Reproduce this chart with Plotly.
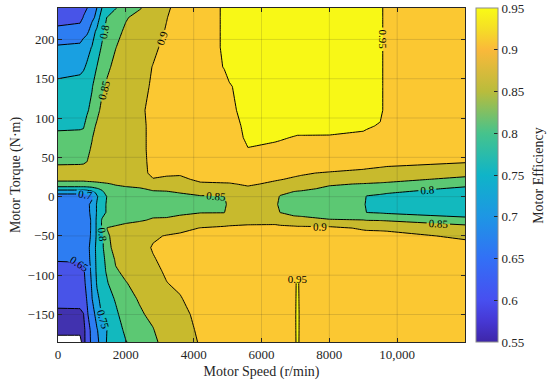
import plotly.graph_objects as go

# Motor speed grid (r/min)
speed = [0, 650, 750, 850, 1000, 1150, 1300, 1450, 1700, 2000, 2400, 2800, 3200, 3600,
         4200, 4900, 5050, 5600, 6400, 6550, 6950, 7060, 7170, 8000, 9000, 9100, 9500, 9700, 12000]

# Motor torque grid (N·m)
torque = [-185, -170, -150, -130, -110, -95, -80, -65, -50, -40, -30, -20, -10, 0, 5, 10, 16, 22,
          30, 45, 60, 75, 90, 110, 140, 165, 190, 210, 228, 240]

# Efficiency rows (one per torque value, one column per speed value)
eff_m185 = [0.53, 0.53, 0.58, 0.625, 0.66, 0.69, 0.72, 0.755, 0.775, 0.798, 0.822, 0.843, 0.862, 0.87, 0.905, 0.925, 0.925, 0.925, 0.928, 0.928, 0.932, 0.962, 0.932, 0.928, 0.926, 0.926, 0.925, 0.925, 0.925]
eff_m170 = [0.565, 0.565, 0.585, 0.62, 0.665, 0.698, 0.715, 0.752, 0.775, 0.81, 0.835, 0.848, 0.87, 0.875, 0.91, 0.925, 0.925, 0.926, 0.928, 0.928, 0.934, 0.962, 0.934, 0.928, 0.927, 0.927, 0.926, 0.925, 0.925]
eff_m150 = [0.59, 0.59, 0.598, 0.64, 0.685, 0.712, 0.755, 0.768, 0.79, 0.825, 0.845, 0.858, 0.88, 0.885, 0.915, 0.925, 0.925, 0.928, 0.93, 0.93, 0.935, 0.962, 0.935, 0.93, 0.928, 0.928, 0.927, 0.926, 0.925]
eff_m130 = [0.615, 0.617, 0.625, 0.652, 0.698, 0.74, 0.765, 0.778, 0.805, 0.838, 0.853, 0.868, 0.89, 0.897, 0.922, 0.926, 0.926, 0.928, 0.93, 0.93, 0.935, 0.96, 0.935, 0.93, 0.928, 0.928, 0.927, 0.926, 0.925]
eff_m110 = [0.622, 0.623, 0.635, 0.665, 0.705, 0.755, 0.78, 0.797, 0.825, 0.848, 0.865, 0.882, 0.899, 0.908, 0.927, 0.928, 0.928, 0.93, 0.932, 0.932, 0.935, 0.958, 0.935, 0.932, 0.93, 0.93, 0.928, 0.927, 0.925]
eff_m95 = [0.625, 0.627, 0.642, 0.672, 0.71, 0.76, 0.788, 0.805, 0.845, 0.86, 0.875, 0.89, 0.905, 0.915, 0.928, 0.93, 0.93, 0.93, 0.932, 0.932, 0.935, 0.945, 0.935, 0.932, 0.93, 0.93, 0.928, 0.927, 0.925]
eff_m80 = [0.655, 0.657, 0.66, 0.68, 0.715, 0.762, 0.79, 0.81, 0.856, 0.866, 0.88, 0.897, 0.91, 0.918, 0.928, 0.93, 0.93, 0.93, 0.932, 0.932, 0.932, 0.935, 0.93, 0.93, 0.93, 0.93, 0.928, 0.926, 0.92]
eff_m65 = [0.668, 0.668, 0.67, 0.685, 0.716, 0.765, 0.79, 0.832, 0.87, 0.875, 0.885, 0.903, 0.91, 0.915, 0.925, 0.928, 0.928, 0.928, 0.928, 0.928, 0.928, 0.928, 0.928, 0.928, 0.925, 0.925, 0.924, 0.924, 0.915]
eff_m50 = [0.67, 0.67, 0.672, 0.688, 0.705, 0.76, 0.79, 0.845, 0.862, 0.868, 0.874, 0.895, 0.902, 0.906, 0.915, 0.918, 0.918, 0.918, 0.918, 0.918, 0.92, 0.92, 0.92, 0.92, 0.915, 0.914, 0.913, 0.912, 0.893]
eff_m40 = [0.67, 0.67, 0.672, 0.685, 0.705, 0.76, 0.805, 0.851, 0.855, 0.857, 0.86, 0.875, 0.882, 0.89, 0.901, 0.905, 0.906, 0.907, 0.908, 0.908, 0.912, 0.91, 0.91, 0.91, 0.895, 0.894, 0.893, 0.892, 0.87]
eff_m30 = [0.67, 0.67, 0.672, 0.685, 0.705, 0.76, 0.805, 0.83, 0.838, 0.845, 0.848, 0.852, 0.855, 0.862, 0.875, 0.882, 0.885, 0.89, 0.89, 0.885, 0.865, 0.865, 0.864, 0.853, 0.851, 0.849, 0.848, 0.846, 0.82]
eff_m20 = [0.672, 0.672, 0.675, 0.69, 0.708, 0.755, 0.785, 0.805, 0.83, 0.838, 0.843, 0.845, 0.84, 0.843, 0.848, 0.848, 0.872, 0.874, 0.87, 0.849, 0.838, 0.836, 0.835, 0.828, 0.818, 0.799, 0.795, 0.792, 0.77]
eff_m10 = [0.675, 0.675, 0.678, 0.69, 0.71, 0.755, 0.785, 0.805, 0.83, 0.835, 0.84, 0.842, 0.835, 0.835, 0.832, 0.835, 0.87, 0.872, 0.868, 0.832, 0.828, 0.826, 0.825, 0.82, 0.812, 0.79, 0.785, 0.782, 0.76]
eff_0 = [0.68, 0.68, 0.683, 0.688, 0.692, 0.745, 0.78, 0.802, 0.83, 0.835, 0.84, 0.842, 0.838, 0.84, 0.845, 0.846, 0.872, 0.876, 0.872, 0.845, 0.835, 0.833, 0.832, 0.825, 0.815, 0.797, 0.79, 0.788, 0.765]
eff_p5 = [0.71, 0.71, 0.71, 0.712, 0.73, 0.76, 0.785, 0.82, 0.835, 0.84, 0.842, 0.845, 0.845, 0.851, 0.865, 0.868, 0.877, 0.885, 0.878, 0.862, 0.845, 0.842, 0.84, 0.83, 0.822, 0.812, 0.808, 0.803, 0.775]
eff_p10 = [0.77, 0.77, 0.77, 0.772, 0.78, 0.795, 0.81, 0.83, 0.84, 0.845, 0.847, 0.855, 0.858, 0.865, 0.885, 0.885, 0.885, 0.896, 0.888, 0.88, 0.863, 0.862, 0.861, 0.84, 0.83, 0.825, 0.825, 0.822, 0.79]
eff_p16 = [0.84, 0.84, 0.84, 0.841, 0.842, 0.843, 0.845, 0.847, 0.853, 0.856, 0.862, 0.885, 0.885, 0.888, 0.898, 0.898, 0.898, 0.903, 0.896, 0.893, 0.885, 0.883, 0.882, 0.856, 0.847, 0.846, 0.842, 0.84, 0.815]
eff_p22 = [0.856, 0.856, 0.856, 0.857, 0.858, 0.86, 0.862, 0.865, 0.868, 0.872, 0.88, 0.899, 0.896, 0.897, 0.903, 0.906, 0.907, 0.908, 0.902, 0.901, 0.897, 0.896, 0.895, 0.888, 0.878, 0.877, 0.872, 0.868, 0.835]
eff_p30 = [0.866, 0.866, 0.866, 0.868, 0.872, 0.875, 0.877, 0.879, 0.882, 0.886, 0.892, 0.905, 0.904, 0.902, 0.905, 0.908, 0.909, 0.912, 0.91, 0.909, 0.905, 0.904, 0.903, 0.897, 0.89, 0.889, 0.886, 0.885, 0.872]
eff_p45 = [0.843, 0.844, 0.845, 0.849, 0.862, 0.872, 0.876, 0.879, 0.882, 0.886, 0.894, 0.905, 0.912, 0.916, 0.92, 0.922, 0.923, 0.93, 0.932, 0.932, 0.932, 0.932, 0.932, 0.928, 0.922, 0.92, 0.915, 0.912, 0.904]
eff_p60 = [0.82, 0.822, 0.825, 0.838, 0.856, 0.872, 0.878, 0.88, 0.884, 0.888, 0.895, 0.905, 0.913, 0.918, 0.922, 0.928, 0.93, 0.949, 0.945, 0.944, 0.94, 0.94, 0.94, 0.938, 0.935, 0.935, 0.932, 0.93, 0.925]
eff_p75 = [0.807, 0.808, 0.81, 0.83, 0.847, 0.87, 0.875, 0.878, 0.882, 0.886, 0.894, 0.906, 0.915, 0.92, 0.925, 0.932, 0.935, 0.955, 0.953, 0.952, 0.949, 0.948, 0.948, 0.948, 0.944, 0.943, 0.938, 0.932, 0.925]
eff_p90 = [0.795, 0.796, 0.797, 0.81, 0.835, 0.857, 0.868, 0.874, 0.88, 0.885, 0.894, 0.906, 0.915, 0.92, 0.928, 0.935, 0.94, 0.956, 0.958, 0.958, 0.958, 0.958, 0.958, 0.957, 0.955, 0.953, 0.948, 0.935, 0.925]
eff_p110 = [0.78, 0.785, 0.79, 0.795, 0.81, 0.837, 0.862, 0.87, 0.878, 0.885, 0.893, 0.91, 0.92, 0.925, 0.93, 0.94, 0.945, 0.958, 0.96, 0.96, 0.96, 0.96, 0.96, 0.96, 0.96, 0.96, 0.956, 0.94, 0.925]
eff_p140 = [0.76, 0.765, 0.77, 0.785, 0.797, 0.82, 0.842, 0.856, 0.868, 0.878, 0.89, 0.904, 0.915, 0.922, 0.932, 0.942, 0.948, 0.96, 0.96, 0.96, 0.96, 0.96, 0.96, 0.96, 0.96, 0.96, 0.956, 0.94, 0.925]
eff_p165 = [0.735, 0.74, 0.745, 0.755, 0.78, 0.801, 0.82, 0.843, 0.86, 0.873, 0.888, 0.901, 0.912, 0.92, 0.935, 0.951, 0.957, 0.96, 0.96, 0.96, 0.96, 0.96, 0.96, 0.96, 0.96, 0.96, 0.956, 0.94, 0.925]
eff_p190 = [0.705, 0.71, 0.72, 0.735, 0.752, 0.78, 0.805, 0.822, 0.849, 0.865, 0.88, 0.894, 0.908, 0.918, 0.935, 0.953, 0.958, 0.96, 0.96, 0.96, 0.96, 0.96, 0.96, 0.96, 0.96, 0.96, 0.956, 0.94, 0.925]
eff_p210 = [0.67, 0.672, 0.685, 0.69, 0.72, 0.765, 0.79, 0.815, 0.836, 0.858, 0.875, 0.89, 0.902, 0.915, 0.935, 0.953, 0.957, 0.96, 0.96, 0.96, 0.96, 0.96, 0.96, 0.96, 0.96, 0.96, 0.956, 0.94, 0.925]
eff_p228 = [0.62, 0.635, 0.652, 0.67, 0.69, 0.71, 0.79, 0.801, 0.82, 0.846, 0.865, 0.885, 0.899, 0.912, 0.935, 0.953, 0.957, 0.96, 0.96, 0.96, 0.96, 0.96, 0.96, 0.96, 0.96, 0.96, 0.956, 0.94, 0.925]
eff_p240 = [0.62, 0.63, 0.64, 0.648, 0.672, 0.701, 0.752, 0.765, 0.798, 0.82, 0.846, 0.87, 0.895, 0.912, 0.935, 0.953, 0.957, 0.96, 0.96, 0.96, 0.96, 0.96, 0.96, 0.96, 0.96, 0.96, 0.956, 0.94, 0.925]

efficiency = [eff_m185, eff_m170, eff_m150, eff_m130, eff_m110, eff_m95, eff_m80, eff_m65, eff_m50,
              eff_m40, eff_m30, eff_m20, eff_m10, eff_0, eff_p5, eff_p10, eff_p16, eff_p22, eff_p30,
              eff_p45, eff_p60, eff_p75, eff_p90, eff_p110, eff_p140, eff_p165, eff_p190, eff_p210,
              eff_p228, eff_p240]

levels_start, levels_end, levels_step = 0.55, 0.95, 0.05
cbar_ticks = [0.55, 0.6, 0.65, 0.7, 0.75, 0.8, 0.85, 0.9, 0.95]
cbar_text = ["0.55", "0.6", "0.65", "0.7", "0.75", "0.8", "0.85", "0.9", "0.95"]
x_ticks = [0, 2000, 4000, 6000, 8000, 10000]
x_text = ["0", "2000", "4000", "6000", "8000", "10,000"]
y_ticks = [-150, -100, -50, 0, 50, 100, 150, 200]
y_text = ["\u2212150", "\u2212100", "\u221250", "0", "50", "100", "150", "200"]

# band fill colours: below first level (white), then each band
band_colors = ["#ffffff", "#4132af", "#4854e8", "#2d7df2", "#19a0e1", "#12b9be",
               "#5cc873", "#c8ba2d", "#fbc832", "#f8f816"]
n = len(band_colors)
step_scale = []
for k, c in enumerate(band_colors):
    lo = max(0.0, (k - 0.5) / (n - 1))
    hi = min(1.0, (k + 0.5) / (n - 1))
    step_scale.append([lo, c])
    step_scale.append([hi, c])

parula = [[0.0, "rgb(62,38,168)"], [0.0625, "rgb(70,56,212)"], [0.125, "rgb(71,79,240)"],
          [0.25, "rgb(50,112,246)"], [0.375, "rgb(30,150,228)"], [0.5, "rgb(15,180,200)"],
          [0.625, "rgb(70,195,140)"], [0.75, "rgb(185,188,60)"], [0.875, "rgb(250,185,58)"],
          [0.9375, "rgb(245,222,38)"], [1.0, "rgb(249,251,21)"]]

FONT = "Liberation Serif"
fig = go.Figure()
fig.add_trace(go.Contour(
    x=speed, y=torque, z=efficiency,
    autocontour=False,
    contours=dict(start=levels_start, end=levels_end, size=levels_step, coloring="fill",
                  showlabels=True, labelformat=".2~f",
                  labelfont=dict(family=FONT, size=11, color="black")),
    colorscale=step_scale, showscale=False,
    line=dict(color="black", width=1, smoothing=0),
    hoverinfo="skip",
))
fig.add_trace(go.Scatter(
    x=[None, None], y=[None, None], mode="markers", showlegend=False,
    marker=dict(color=[levels_start, levels_end], colorscale=parula, cmin=levels_start,
                cmax=levels_end, showscale=True,
                colorbar=dict(x=1.027, xanchor="left", xpad=0, ypad=0, y=0.5,
                              yanchor="middle", len=1, lenmode="fraction", thickness=22,
                              outlinewidth=1, outlinecolor="#8c8c8c", ticks="inside",
                              ticklen=4, tickcolor="#262626", tickvals=cbar_ticks,
                              ticktext=cbar_text,
                              tickfont=dict(family=FONT, size=13, color="#262626")))
))

shapes = []
for xv in x_ticks[1:]:
    shapes.append(dict(type="line", xref="x", yref="paper", x0=xv, x1=xv, y0=0, y1=1,
                       line=dict(color="rgba(38,38,38,0.15)", width=1), layer="above"))
for yv in y_ticks:
    shapes.append(dict(type="line", xref="paper", yref="y", x0=0, x1=1, y0=yv, y1=yv,
                       line=dict(color="rgba(38,38,38,0.15)", width=1), layer="above"))

axis_common = dict(ticks="inside", ticklen=4, tickcolor="#262626", showline=True,
                   mirror="ticks", linecolor="#262626", linewidth=1, showgrid=False,
                   zeroline=False, automargin=False,
                   tickfont=dict(family=FONT, size=13, color="#262626"))
fig.update_layout(
    width=550, height=388, margin=dict(l=58, r=85, t=8, b=46, autoexpand=False),
    font=dict(family=FONT, size=13, color="#262626"),
    paper_bgcolor="white", plot_bgcolor="white", showlegend=False,
    shapes=shapes,
    annotations=[dict(text="Motor Efficiency", textangle=-90, xref="paper", yref="paper",
                      x=1.179, y=0.5, xanchor="center", yanchor="middle", showarrow=False,
                      font=dict(family=FONT, size=14, color="#262626"))],
    xaxis=dict(range=[0, 12000], tickvals=x_ticks, ticktext=x_text,
               title=dict(text="Motor Speed (r/min)", standoff=5,
                          font=dict(family=FONT, size=14, color="#262626")), **axis_common),
    yaxis=dict(range=[-185, 240], tickvals=y_ticks, ticktext=y_text,
               title=dict(text="Motor Torque (N\u00b7m)", standoff=3,
                          font=dict(family=FONT, size=14, color="#262626")), **axis_common),
)
fig.write_html("out.html", config={"displayModeBar": False},
               post_script="document.body.style.margin='0';")
